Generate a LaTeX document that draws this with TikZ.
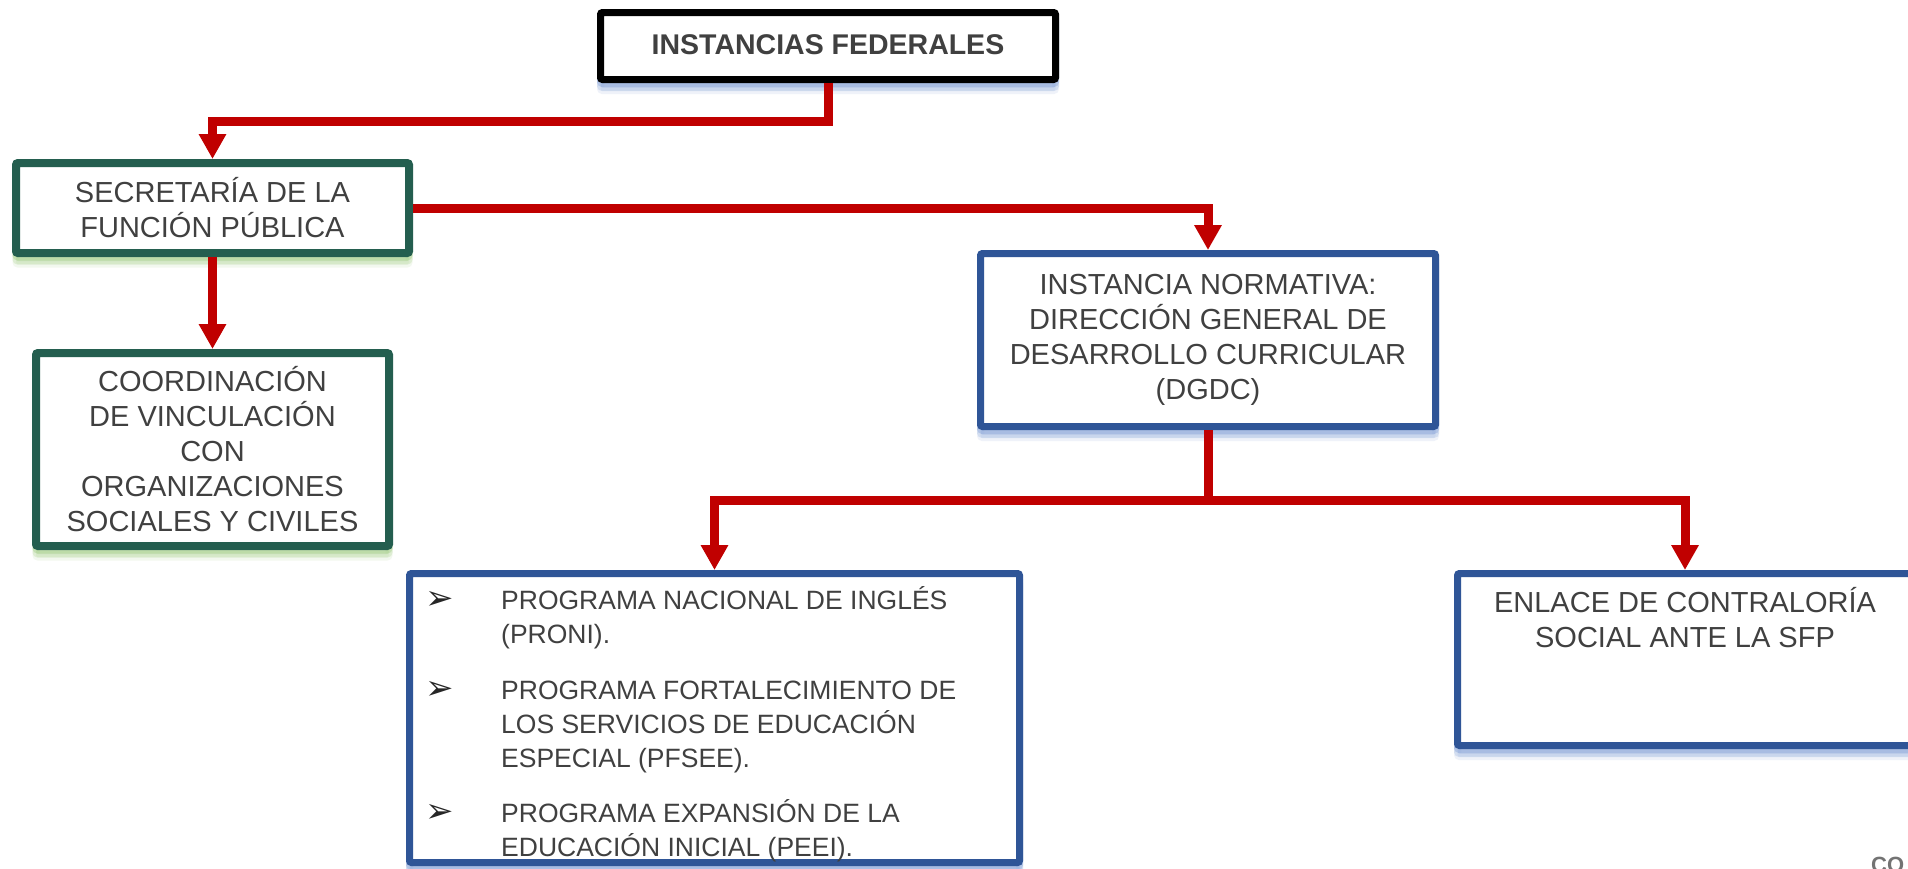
\documentclass[tikz,border=0pt]{standalone}
\usepackage{fontspec}
\setmainfont{Liberation Sans}
\newfontfamily\dejavu{DejaVu Sans}
\usetikzlibrary{arrows.meta,shadows}
\definecolor{txt}{HTML}{404040}
\definecolor{redc}{HTML}{C00000}
\definecolor{greenb}{HTML}{245E4F}
\definecolor{blueb}{HTML}{2F5597}
\definecolor{shblue}{HTML}{8EA9DB}
\definecolor{shgreen}{HTML}{A9D18E}
\begin{document}
\begin{tikzpicture}[x=1pt,y=-1pt,
  box/.style={draw, fill=white, rounded corners=2pt, inner sep=0pt, align=center, text=txt,
    font=\fontsize{29}{35}\selectfont},
  glow/.style={general shadow={fill=#1, draw=#1, line width=7pt, opacity=.45, shadow yshift=-4pt},
    general shadow={fill=#1, draw=#1, line width=7pt, opacity=.28, shadow yshift=-8pt},
    general shadow={fill=#1, draw=#1, line width=7pt, opacity=.14, shadow yshift=-11pt}},
  kbox/.style={box, draw=black, line width=7pt, glow=shblue},
  gbox/.style={box, draw=greenb, line width=8pt, glow=shgreen},
  bbox/.style={box, draw=blueb, line width=7pt, glow=shblue},
  tip/.tip={Triangle[width=26pt,length=25pt]},
  conn/.style={draw=redc, line width=9pt, line join=miter, -tip},
  itm/.style={anchor=base west, inner sep=0pt, text=txt, font=\fontsize{26.5}{34}\selectfont},
  bul/.style={inner sep=0pt, text=black!85, font=\dejavu\fontsize{34}{34}\selectfont}
]
\useasboundingbox (0,0) rectangle (1908,868);
\fill[white] (0,0) rectangle (1908,868);

% boxes
\node[kbox, minimum width=455pt, minimum height=67pt, font=\bfseries\fontsize{28.5}{34}\selectfont]
  (fed) at (828,46) {\raisebox{2pt}{INSTANCIAS FEDERALES}};
\node[gbox, minimum width=393pt, minimum height=90pt] (sfp) at (212.5,208)
  {SECRETARÍA DE LA\\FUNCIÓN PÚBLICA};
\node[gbox, minimum width=353pt, minimum height=193pt] (coord) at (212.5,449.5)
  {COORDINACIÓN\\DE VINCULACIÓN\\CON\\ORGANIZACIONES\\SOCIALES Y CIVILES};
\node[bbox, minimum width=455pt, minimum height=173pt] (dgdc) at (1208,340)
  {INSTANCIA NORMATIVA:\\DIRECCIÓN GENERAL DE\\DESARROLLO CURRICULAR\\(DGDC)};
\node[bbox, minimum width=610pt, minimum height=289pt] (prog) at (714.5,718) {};
\node[bbox, minimum width=455pt, minimum height=172pt] (enl) at (1685,659.5) {};
\node[inner sep=0pt, align=center, text=txt, font=\fontsize{29}{35}\selectfont] (enltxt) at (1685,618)
  {ENLACE DE CONTRALORÍA\\SOCIAL ANTE LA SFP};

% list in program box
\node[bul] (b1) at (440,600) {➢};
\node[bul] (b2) at (440,690) {➢};
\node[bul] (b3) at (440,813) {➢};
\node[itm] (p1a) at (501,609.5) {PROGRAMA NACIONAL DE INGLÉS};
\node[itm] (p1b) at (501,643.5) {(PRONI).};
\node[itm] (p2a) at (501,699.5) {PROGRAMA FORTALECIMIENTO DE};
\node[itm] (p2b) at (501,733.5) {LOS SERVICIOS DE EDUCACIÓN};
\node[itm] (p2c) at (501,767.5) {ESPECIAL (PFSEE).};
\node[itm] (p3a) at (501,822.5) {PROGRAMA EXPANSIÓN DE LA};
\node[itm] (p3b) at (501,856.5) {EDUCACIÓN INICIAL (PEEI).};

% cut-off text at bottom right
\node[anchor=north west, inner sep=0pt, text=black!55, font=\bfseries\fontsize{22}{22}\selectfont]
  (co) at (1871,857) {CO};

% connectors
\coordinate (j1) at (212.5,121);
\coordinate (j2) at (1208,500);
\draw[conn] (fed.south) |- (j1) -- (sfp.north);
\draw[conn] (sfp.east) -| (dgdc.north);
\draw[conn] (sfp.south) -- (coord.north);
\draw[conn, -] (dgdc.south) -- ([yshift=-4pt]j2);
\draw[conn, tip-tip] (prog.north) |- (j2) -| (enl.north);
\end{tikzpicture}
\end{document}
